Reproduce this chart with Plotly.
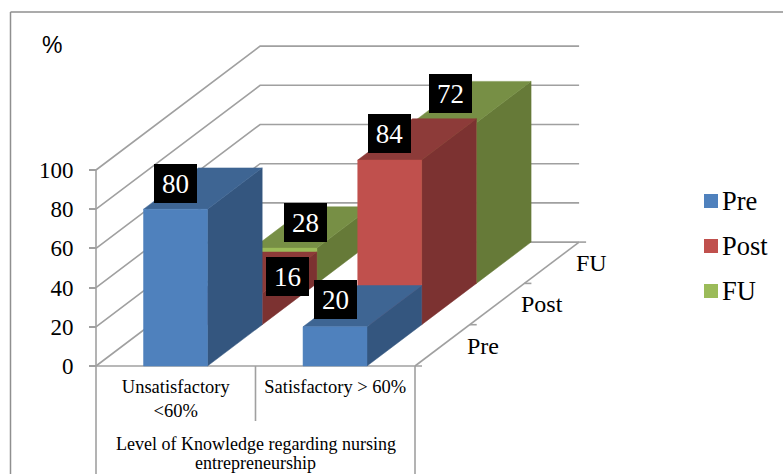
import plotly.graph_objects as go

# ---- data ----
categories = ["Unsatisfactory<br>&lt;60%", "Satisfactory &gt; 60%"]
series_names = ["Pre", "Post", "FU"]
pre_values = [80, 20]
post_values = [16, 84]
fu_values = [18, 82]          # heights as drawn
pre_labels = ["80", "20"]
post_labels = ["16", "84"]
fu_labels = ["28", "72"]      # labels as printed in the source
value_ticks = [0, 20, 40, 60, 80, 100]
axis_title_lines = ["Level of Knowledge regarding nursing", "entrepreneurship"]

# ---- page geometry (783x474 window) ----
W, H = 783, 474
PX_X0, PX_PER_CAT = 96.0, 159.5      # category 0 edge, pixels per category
PX_Y0, PX_PER_VAL = 366.0, 1.96      # value 0, pixels per value unit
SLOT_DX = 54.7 / PX_PER_CAT          # oblique depth of one series slot
SLOT_DY = 41.3 / PX_PER_VAL
BAR_OFF, BAR_W = 0.298, 0.401
GRID = "#a0a0a0"
FRAME = "#8f8f8f"
SERIF = "Liberation Serif"

colors = {
    "Pre":  dict(front="#4f81bd", side="#34567f", top="#3e6593"),
    "Post": dict(front="#c0504d", side="#7c3231", top="#8d3b39"),
    "FU":   dict(front="#9bbb59", side="#667a38", top="#778f45"),
}
# nudges (pixels) of the printed labels relative to the bar's top-front centre
label_shift = {
    "Pre":  [(0, 26), (0, 27)],
    "Post": [(57, 17), (0, 27)],
    "FU":   [(21, 26), (6, 29)],
}


def proj(cat, val, depth=0.0):
    return cat + depth * SLOT_DX, val + depth * SLOT_DY


def poly(points):
    xs, ys = zip(*points)
    return list(xs) + [xs[0]], list(ys) + [ys[0]]


def px_x(p):
    return (p - PX_X0) / PX_PER_CAT


def px_y(p):
    return (PX_Y0 - p) / PX_PER_VAL


fig = go.Figure()


def line(points, width=1.6, color=GRID):
    xs, ys = zip(*points)
    fig.add_trace(go.Scatter(x=xs, y=ys, mode="lines", showlegend=False, hoverinfo="skip",
                             line=dict(color=color, width=width)))


# walls: gridlines on the left wall and the back wall
for v in value_ticks:
    line([proj(0, v, 0), proj(0, v, 3), proj(2, v, 3)])
    if v == 0:
        line([proj(2, 0, 3), (proj(2, 0, 3)[0] + 7 / PX_PER_CAT, proj(2, 0, 3)[1])])

# floor edges, value axis line, depth axis ticks
line([proj(2, 0, 0), proj(2, 0, 3)])
line([(0, 0), (0, 100)])
line([(-7 / PX_PER_CAT, 0), (2 + 7 / PX_PER_CAT, 0)])
for d in (1, 2):
    p = proj(2, 0, d)
    line([p, (p[0] + 7 / PX_PER_CAT, p[1])])


def face(points, color, name):
    xs, ys = poly(points)
    fig.add_trace(go.Scatter(x=xs, y=ys, mode="lines", fill="toself", fillcolor=color, name=name,
                             showlegend=False, hoverinfo="skip",
                             line=dict(color=color, width=0.5)))


def bar3d(cat_i, slot, value, c, name):
    l = cat_i + BAR_OFF
    r = l + BAR_W
    face([proj(r, 0, slot), proj(r, value, slot), proj(r, value, slot + 1), proj(r, 0, slot + 1)], c["side"], name)
    face([proj(l, value, slot), proj(r, value, slot), proj(r, value, slot + 1), proj(l, value, slot + 1)], c["top"], name)
    face([proj(l, 0, slot), proj(r, 0, slot), proj(r, value, slot), proj(l, value, slot)], c["front"], name)


all_values = {"Pre": pre_values, "Post": post_values, "FU": fu_values}
all_labels = {"Pre": pre_labels, "Post": post_labels, "FU": fu_labels}

# painter's order: back series first
for slot in (2, 1, 0):
    name = series_names[slot]
    for i, val in enumerate(all_values[name]):
        bar3d(i, slot, val, colors[name], name)

annotations = []

# printed value labels
for slot, name in enumerate(series_names):
    for i, val in enumerate(all_values[name]):
        x, y = proj(i + BAR_OFF + BAR_W / 2, val, slot)
        dx, dy = label_shift[name][i]
        annotations.append(dict(x=x, y=y, xref="x", yref="y", text=all_labels[name][i], showarrow=False,
                                xshift=dx, yshift=dy, width=43, height=39, bgcolor="black",
                                borderpad=0, borderwidth=0, align="center", valign="middle",
                                font=dict(family=SERIF, size=27, color="white")))

# depth axis labels
for d, name in zip((1, 2, 3), series_names):
    x, y = proj(2, 0, d)
    annotations.append(dict(x=x, y=y, xref="x", yref="y", text=name, showarrow=False, xanchor="left",
                            yanchor="middle", xshift=-5, yshift=-21,
                            font=dict(family=SERIF, size=24, color="black")))

# category table
line([(0, 0), (0, px_y(474))])
line([(1, 0), (1, px_y(421))])
line([(2, 0), (2, px_y(474))])
for text, py in zip(axis_title_lines, (444, 463)):
    annotations.append(dict(x=1, y=px_y(py), xref="x", yref="y", text=text, showarrow=False,
                            font=dict(family=SERIF, size=18, color="black"), align="center", yanchor="middle"))

# "%" unit
annotations.append(dict(x=px_x(52), y=px_y(45), xref="x", yref="y", text="%", showarrow=False,
                        font=dict(family="Liberation Sans", size=23, color="black")))

# key
for k, name in enumerate(series_names):
    cy = 201 + 45 * k
    fig.add_trace(go.Scatter(x=[px_x(711)], y=[px_y(cy)], mode="markers", name=name, showlegend=False,
                             hoverinfo="skip",
                             marker=dict(symbol="square", size=14, color=colors[name]["front"])))
    annotations.append(dict(x=px_x(720), y=px_y(cy), xref="x", yref="y", text=name, showarrow=False,
                            xanchor="left", yanchor="middle",
                            font=dict(family=SERIF, size=26.5, color="black")))

fig.update_layout(
    width=W, height=H, margin=dict(l=0, r=0, t=0, b=0), autosize=False,
    plot_bgcolor="white", paper_bgcolor="white", showlegend=False,
    annotations=annotations,
    xaxis=dict(range=[px_x(0), px_x(W)], anchor="free", position=(H - PX_Y0) / H,
               tickmode="array", tickvals=[0.5, 1.5], ticktext=categories,
               showgrid=False, zeroline=False, showline=False, ticks="",
               ticklabelstandoff=7, tickangle=0,
               tickfont=dict(family=SERIF, size=18.5, color="black"), fixedrange=True),
    yaxis=dict(range=[px_y(H), px_y(0)], anchor="free", position=PX_X0 / W,
               tickmode="array", tickvals=value_ticks, ticktext=[str(v) for v in value_ticks],
               showgrid=False, zeroline=False, showline=False, ticks="outside", ticklen=7,
               tickcolor=GRID, tickwidth=1.6, ticklabelstandoff=11,
               tickfont=dict(family=SERIF, size=23, color="black"), fixedrange=True),
    shapes=[dict(type="line", xref="paper", yref="paper", x0=10.5 / W, x1=10.5 / W, y0=0, y1=1 - 12 / H,
                 line=dict(color=FRAME, width=1.5)),
            dict(type="line", xref="paper", yref="paper", x0=10.5 / W, x1=1, y0=1 - 12 / H, y1=1 - 12 / H,
                 line=dict(color=FRAME, width=1.5))],
)
fig.write_html("out.html", config={"displayModeBar": False},
               post_script="document.body.style.margin='0';document.documentElement.style.overflow='hidden';")
